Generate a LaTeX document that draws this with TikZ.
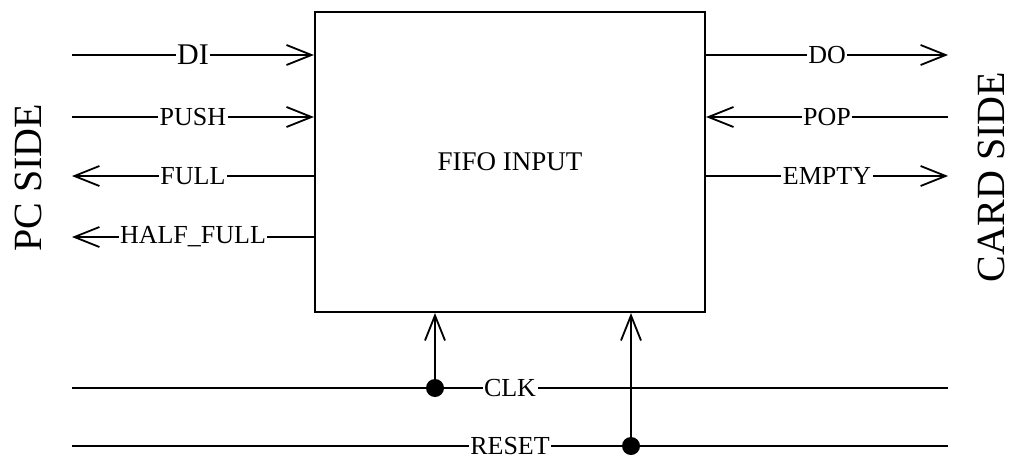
\documentclass[tikz,border=0pt]{standalone}
\usepackage{fontspec}
\setmainfont{Liberation Serif}
\usetikzlibrary{arrows.meta}

\tikzset{
  sig/.style={line width=1.8pt},
  lbl/.style={fill=white,inner xsep=1.5pt,inner ysep=0pt,font=\fontsize{26}{26}\selectfont},
  side/.style={rotate=90,font=\fontsize{40}{40}\selectfont},
  dot/.style={circle,fill=black,inner sep=0pt,minimum size=18pt},
}

\begin{document}
\begin{tikzpicture}[x=1pt,y=-1pt,>={Straight Barb[length=25pt,width=20pt]}]
    \useasboundingbox (0,0) rectangle (1015,461);

    % bloque central y rotulos de los dos lados
    \node[draw,line width=2.2pt,minimum width=390pt,minimum height=300pt,
        inner sep=0pt,font=\fontsize{27}{27}\selectfont] (fifo) at (510,162)
        {FIFO INPUT};
    \node[side] (pcside) at (28,178) {PC SIDE};
    \node[side] (cardside) at (991,177) {CARD SIDE};

    % senales del lado del PC
    \coordinate (di) at (72,55);
    \coordinate (push) at (72,117);
    \coordinate (full) at (72,176);
    \coordinate (hfull) at (72,237);
    \draw[sig,->] (di) -- (di -| fifo.west)
        node[lbl,midway,font=\fontsize{30}{30}\selectfont] {DI};
    \draw[sig,->] (push) -- (push -| fifo.west) node[lbl,midway] {PUSH};
    \draw[sig,<-] (full) -- (full -| fifo.west) node[lbl,midway] {FULL};
    \draw[sig,<-] (hfull) -- (hfull -| fifo.west) node[lbl,midway] {HALF\_FULL};

    % senales del lado de la tarjeta
    \coordinate (do) at (948,55);
    \coordinate (pop) at (948,117);
    \coordinate (empty) at (948,176);
    \draw[sig,->] (do -| fifo.east) -- (do) node[lbl,midway] {DO};
    \draw[sig,<-] (pop -| fifo.east) -- (pop) node[lbl,midway] {POP};
    \draw[sig,->] (empty -| fifo.east) -- (empty) node[lbl,midway] {EMPTY};

    % reloj y reset comunes
    \coordinate (clkl) at (72,388);
    \coordinate (clkr) at (948,388);
    \coordinate (rstl) at (72,446);
    \coordinate (rstr) at (948,446);
    \draw[sig] (clkl) -- (clkr) node[lbl,midway] {CLK};
    \draw[sig] (rstl) -- (rstr) node[lbl,midway] {RESET};
    \node[dot] (clkdot) at (435,388) {};
    \node[dot] (rstdot) at (631,446) {};
    \draw[sig,->] (clkdot.center) -- (clkdot |- fifo.south);
    \draw[sig,->] (rstdot.center) -- (rstdot |- fifo.south);
\end{tikzpicture}
\end{document}
